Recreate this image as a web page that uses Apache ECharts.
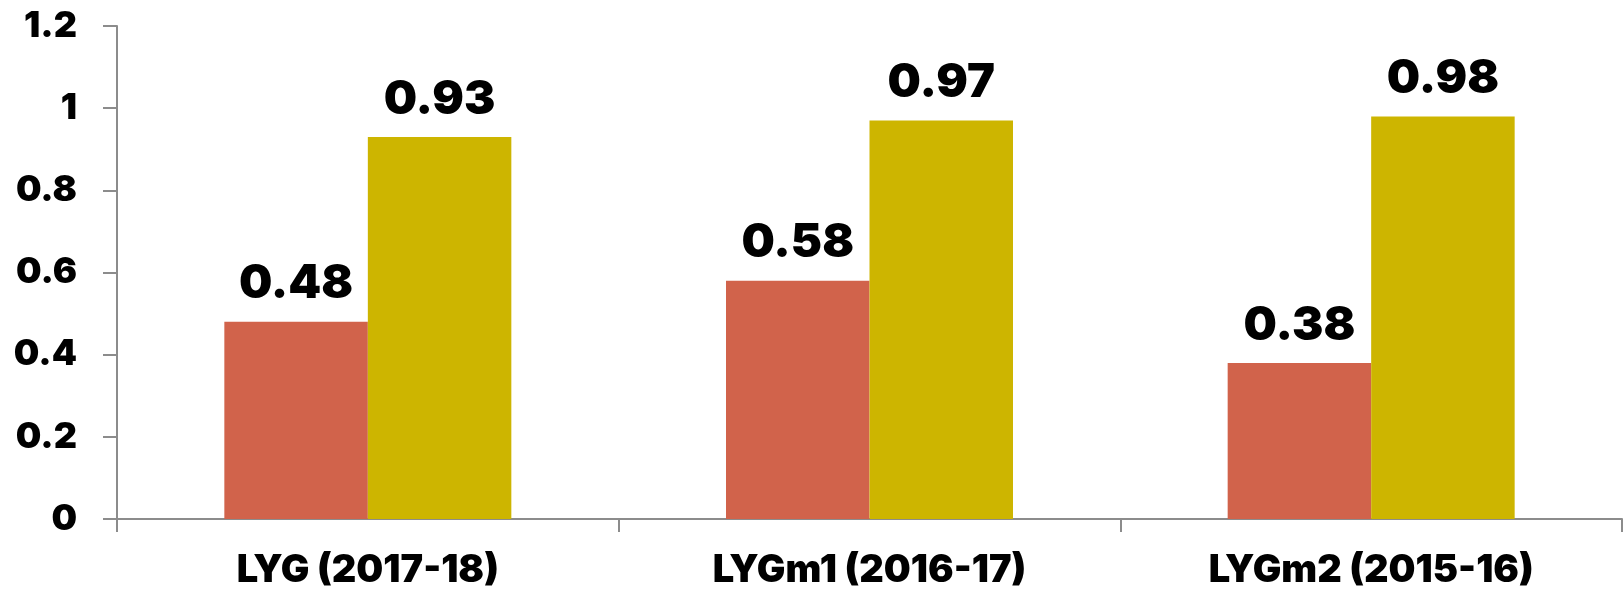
<!DOCTYPE html>
<html>
<head>
<meta charset="utf-8">
<script src="https://cdn.jsdelivr.net/npm/echarts@6/dist/echarts.min.js"></script>
<style>
html,body{margin:0;padding:0;background:#fff;}
#chart{width:1624px;height:596px;}
</style>
</head>
<body>
<div id="chart"></div>
<script>
const categories = ['LYG (2017-18)', 'LYGm1 (2016-17)', 'LYGm2 (2015-16)'];
const seriesA = [0.48, 0.58, 0.38];
const seriesB = [0.93, 0.97, 0.98];
const yTicks = [0, 0.2, 0.4, 0.6, 0.8, 1, 1.2];

const FONT = 'Inter, "DejaVu Sans", sans-serif';
const chart = echarts.init(document.getElementById('chart'), null, {renderer: 'canvas'});
const labelStyle = {
  show: true, position: 'top', distance: 14,
  fontFamily: FONT, fontWeight: 900, fontSize: 47, color: '#000',
  formatter: p => String(p.value)
};
chart.setOption({
  animation: false,
  backgroundColor: '#fff',
  grid: {left: 117, right: 2, top: 26, bottom: 77, containLabel: false},
  xAxis: {
    type: 'category',
    data: categories,
    axisLine: {lineStyle: {color: '#8c8c8c', width: 2}},
    axisTick: {show: true, length: 13, lineStyle: {color: '#8c8c8c', width: 2}},
    axisLabel: {fontFamily: FONT, fontWeight: 900, fontSize: 38, color: '#000', margin: 33}
  },
  yAxis: {
    type: 'value',
    min: 0, max: 1.2, interval: 0.2,
    splitLine: {show: false},
    axisLine: {show: true, lineStyle: {color: '#8c8c8c', width: 2}},
    axisTick: {show: true, length: 14, lineStyle: {color: '#8c8c8c', width: 2}},
    axisLabel: {
      fontFamily: FONT, fontWeight: 900, fontSize: 36, color: '#000', margin: 40,
      formatter: v => { const t = yTicks.find(x => Math.abs(x - v) < 1e-9); return String(t !== undefined ? t : v); }
    }
  },
  series: [
    {type: 'bar', data: seriesA, barWidth: 143.5, barGap: '0%',
     itemStyle: {color: '#D1634B'}, label: labelStyle},
    {type: 'bar', data: seriesB, barWidth: 143.5, barGap: '0%',
     itemStyle: {color: '#CDB500'}, label: labelStyle}
  ]
});
</script>
</body>
</html>
